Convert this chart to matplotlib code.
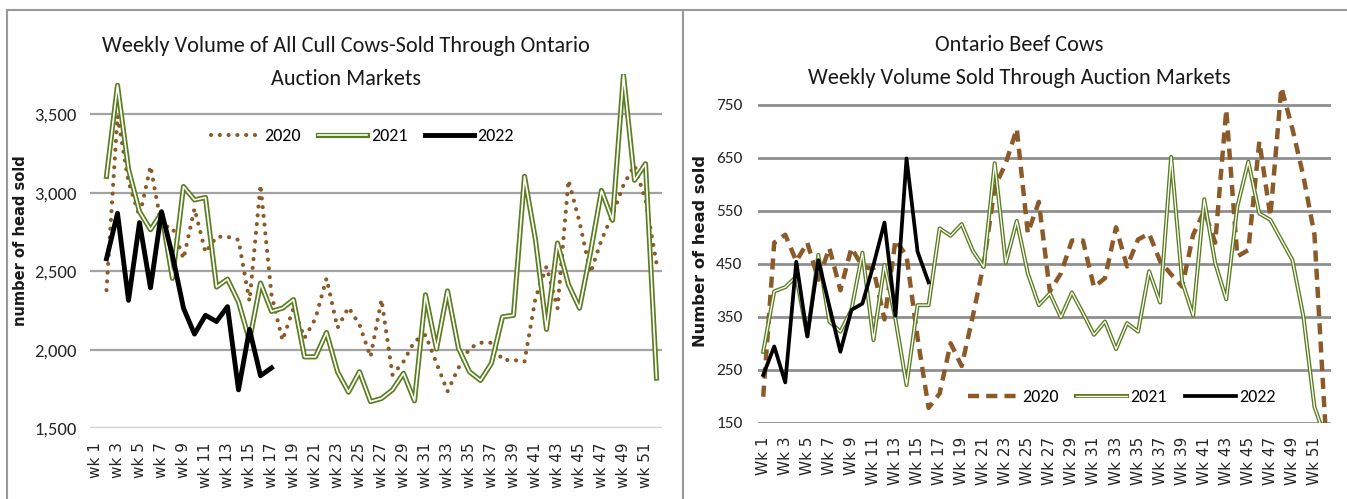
import matplotlib
matplotlib.use("Agg")
import matplotlib.pyplot as plt
import matplotlib.patheffects as pe
from matplotlib import font_manager
from matplotlib.lines import Line2D
import numpy as np

nan = np.nan

# ---- data ----
weeks = list(range(1, 53))

cull_2020 = [nan, 2380, 3490, 3070, 2850, 3170, 2790, 2780, 2580, 2900, 2620, 2720, 2720, 2700, 2310, 3050,
             2350, 2060, 2265, 2075, 2200, 2455, 2140, 2270, 2160, 1955, 2320, 1840, 1925, 2055, 2095, 1915,
             1735, 1885, 2010, 2045, 2045, 1935, 1935, 1925, 2330, 2530, 2265, 3080, 2815, 2490, 2700, 2860,
             3050, 3175, 2955, 2550]
cull_2021 = [nan, 3105, 3685, 3150, 2880, 2765, 2870, 2455, 3040, 2955, 2970, 2400, 2450, 2305, 2060, 2425,
             2245, 2265, 2320, 1955, 1955, 2110, 1860, 1730, 1860, 1670, 1690, 1745, 1850, 1675, 2350, 2005,
             2375, 2010, 1860, 1805, 1915, 2210, 2220, 3105, 2700, 2130, 2680, 2415, 2265, 2620, 3015, 2825,
             3750, 3080, 3185, 1820]
cull_2022 = [nan, 2580, 2870, 2315, 2810, 2395, 2880, 2600, 2265, 2100, 2220, 2180, 2275, 1745, 2130, 1835, 1885]

beef_2020 = [199, 490, 505, 455, 490, 420, 480, 400, 480, 445, 440, 345, 495, 465, 310, 178, 205, 300, 257,
             350, 450, 595, 640, 705, 508, 567, 398, 432, 494, 494, 406, 423, 519, 445, 496, 507, 455, 430,
             407, 505, 550, 490, 741, 464, 476, 681, 540, 783, 705, 615, 505, 140]
beef_2021 = [284, 398, 406, 426, 313, 467, 341, 322, 363, 471, 306, 448, 345, 221, 372, 372, 517, 503, 525,
             475, 444, 640, 452, 531, 432, 372, 394, 349, 396, 357, 316, 341, 289, 338, 322, 436, 377, 652,
             416, 352, 572, 451, 383, 558, 643, 545, 533, 495, 457, 350, 180, 120]
beef_2022 = [240, 294, 226, 454, 313, 457, 370, 284, 363, 375, 448, 528, 352, 649, 473, 415]

cull_ticks = [1500, 2000, 2500, 3000, 3500]
beef_ticks = [150, 250, 350, 450, 550, 650, 750]

BROWN = '#8c5a28'
GREEN = '#5a7d1e'

avail = {f.name for f in font_manager.fontManager.ttflist}
narrow = next((n for n in ['Carlito', 'Liberation Sans Narrow', 'Roboto Condensed', 'Open Sans Condensed']
               if n in avail), 'Liberation Sans')

fig = plt.figure(figsize=(13.47, 4.99), dpi=100)


def pad(vals):
    return np.array(list(vals) + [nan] * (52 - len(vals)), dtype=float)


def style_axes(ax, ticks, ylim, prefix, gridlw, gridcol, tsize, ypad):
    x = np.arange(52)
    ax.set_xlim(-0.5, 51.5)
    ax.set_ylim(*ylim)
    ax.set_yticks(ticks)
    ax.set_yticklabels([f"{t:,}" for t in ticks], fontsize=tsize, family=narrow, color='#262626')
    ax.set_xticks(x[::2])
    ax.set_xticklabels([f"{prefix} {w}" for w in weeks[::2]], rotation=90, fontsize=11,
                       family='DejaVu Sans', color='#262626')
    ax.tick_params(length=0)
    ax.tick_params(axis='y', pad=ypad)
    ax.tick_params(axis='x', pad=10)
    for s in ax.spines.values():
        s.set_visible(False)
    for t in ticks:
        ax.axhline(t, color=gridcol, lw=gridlw, zorder=0)


def draw(ax, y20, y21, y22, dash20, lw20, lw21, lw22):
    x = np.arange(52)
    cap = 'round' if dash20[1][0] < 0.5 else 'butt'
    ax.plot(x, pad(y20), color=BROWN, lw=lw20, linestyle=dash20, dash_capstyle=cap, label='2020', zorder=3)
    ax.plot(x, pad(y21), color='white', lw=lw21 * 0.33, label='2021', zorder=4,
            path_effects=[pe.Stroke(linewidth=lw21, foreground=GREEN), pe.Normal()])
    ax.plot(x, pad(y22), color='black', lw=lw22, label='2022', zorder=5)


# ---- left chart ----
ax1 = fig.add_axes([90 / 1347, 1 - 428.3 / 499, 572 / 1347, 354.8 / 499])
style_axes(ax1, cull_ticks, (1500, 3760), 'wk', 1.6, '#a3a3a3', 13.3, 9.5)
ax1.axhline(1500, color='#d9d9d9', lw=2, zorder=1)
draw(ax1, cull_2020, cull_2021, cull_2022, (0, (0.01, 2.1)), 3.0, 3.7, 3.5)
ax1.set_ylabel('number of head sold', fontsize=10.5, fontweight='bold', family='DejaVu Sans', color='#1a1a1a')
ax1.yaxis.set_label_coords(-0.108, 0.528)
ax1.legend(ncol=3, loc='center', bbox_to_anchor=(0.477, 0.824), frameon=False, handlelength=2.7,
           columnspacing=1.0, handletextpad=0.2, prop={'family': narrow, 'size': 13})
fig.text(346 / 1347, 1 - 46 / 499, 'Weekly Volume of All Cull Cows-Sold Through Ontario', ha='center', va='center',
         fontsize=16, family=narrow, color='#1a1a1a')
fig.text(346 / 1347, 1 - 79 / 499, 'Auction Markets', ha='center', va='center', fontsize=16, family=narrow,
         color='#1a1a1a')

# ---- right chart ----
ax2 = fig.add_axes([757.7 / 1347, 1 - 422.7 / 499, 573.3 / 1347, 344.2 / 499])
style_axes(ax2, beef_ticks, (150, 800), 'Wk', 2.0, '#8f8f8f', 12.5, 11)
draw(ax2, beef_2020, beef_2021, beef_2022, (0, (2.5, 1.6)), 3.2, 2.9, 2.7)
ax2.set_ylabel('Number of head sold', fontsize=11.7, fontweight='bold', family='DejaVu Sans', color='#1a1a1a')
ax2.yaxis.set_label_coords(-0.087, 0.499)
ax2.legend(ncol=3, loc='center', bbox_to_anchor=(0.635, 0.075), frameon=False, handlelength=2.8,
           columnspacing=1.0, handletextpad=0.2, prop={'family': narrow, 'size': 13})
fig.text(1019 / 1347, 1 - 45 / 499, 'Ontario Beef Cows', ha='center', va='center', fontsize=16, family=narrow,
         color='#1a1a1a')
fig.text(1019 / 1347, 1 - 78 / 499, 'Weekly Volume Sold Through Auction Markets', ha='center', va='center',
         fontsize=16, family=narrow, color='#1a1a1a')

# panel borders
for xs, ys in [([7, 7], [10, 499]), ([7, 1347], [10, 10]), ([683, 683], [10, 499])]:
    fig.add_artist(Line2D([v / 1347 for v in xs], [1 - v / 499 for v in ys], transform=fig.transFigure,
                          color='#9a9a9a', lw=1.5))

fig.savefig('out.png', dpi=100)
